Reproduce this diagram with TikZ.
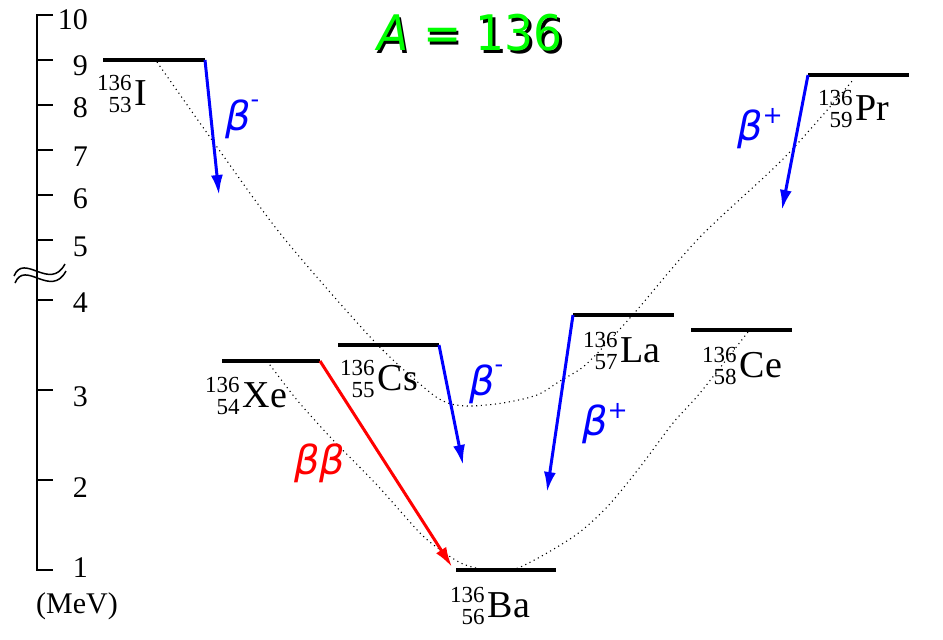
\documentclass[tikz,border=0pt]{standalone}
\usepackage{fontspec}
\setmainfont{Liberation Serif}
\newfontfamily\djv{DejaVu Sans}
\usetikzlibrary{arrows.meta}
\definecolor{tgreen}{RGB}{0,255,0}
\definecolor{tblue}{RGB}{0,0,255}
\definecolor{tred}{RGB}{255,0,0}
\newcommand\nucl[2]{{\fontsize{23}{22}\selectfont\raisebox{-7pt}{\begin{tabular}[b]{@{}r@{}}136\\#1\end{tabular}}}\kern3pt{\fontsize{38}{38}\selectfont #2}}
\newcommand\bet[2]{{\djv\fontsize{40}{40}\selectfont\itshape β}\raisebox{#2}{\djv\fontsize{24}{24}\selectfont #1}}
\newcommand\titletext{\scalebox{0.93}[1]{\djv\fontsize{49}{49}\selectfont{\itshape A} = 136}}
\begin{document}
\begin{tikzpicture}[x=1pt,y=-1pt,
  level/.style={line width=4pt},
  decay/.style={line width=3pt,-{Latex[length=20pt,width=12pt]}},
  parab/.style={line width=1.1pt,dash pattern=on 1.1pt off 3.6pt},
  axisline/.style={line width=2.5pt},
  ticklab/.style={anchor=east,inner sep=0pt,font=\fontsize{30}{30}\selectfont},
  nuc/.style={anchor=base west,inner sep=0pt},
  betalab/.style={anchor=base west,inner sep=0pt}]
\useasboundingbox (0,0) rectangle (943,640);
% axis
\draw[axisline] (53,15) -- (37,15) -- (37,570) -- (53,570);
\foreach \y in {60,105,150,195,240,300,390,480} \draw[axisline] (37,\y) -- (53,\y);
\node[ticklab] (t10) at (88,20) {10};
\node[ticklab] (t9) at (88,66) {9};
\node[ticklab] (t8) at (88,108) {8};
\node[ticklab] (t7) at (88,157) {7};
\node[ticklab] (t6) at (88,199) {6};
\node[ticklab] (t5) at (88,247) {5};
\node[ticklab] (t4) at (88,303) {4};
\node[ticklab] (t3) at (88,397) {3};
\node[ticklab] (t2) at (88,488) {2};
\node[ticklab] (t1) at (88,568) {1};
\node[anchor=west,inner sep=0pt,font=\fontsize{30}{30}\selectfont] (mev) at (36,606) {(MeV)};
% axis break
\draw[line width=1.5pt] (14,276) .. controls (24,252) and (50,292) .. (65,264);
\draw[line width=1.5pt] (15,283) .. controls (25,259) and (51,299) .. (66,271);
% title with shadow
\node[inner sep=0pt] (title) at (470,34) {\rlap{\kern2.5pt\raisebox{-2.5pt}{\color{black}\titletext}}{\color{tgreen}\titletext}};
% mass parabolas
\draw[parab] plot[smooth] coordinates {(157,62) (217,147) (283,237) (373,340) (427,390) (448,403) (470,406) (503,403) (537,395) (560,381) (583,367) (607,343) (637,310) (700,237) (785,157) (853,80)};
\draw[parab] plot[smooth] coordinates {(267,361) (297,400) (333,440) (377,485) (420,533) (442,551) (463,564) (488,570) (518,568) (573,537) (607,507) (640,467) (673,423) (700,393) (748,332)};
% levels
\coordinate (Il) at (103,60);  \coordinate (Ir) at (205,60);
\coordinate (Xel) at (222,361); \coordinate (Xer) at (320,361);
\coordinate (Csl) at (338,345); \coordinate (Csr) at (439,345);
\coordinate (Bal) at (456,570); \coordinate (Bar) at (556,570);
\coordinate (Lal) at (573,315); \coordinate (Lar) at (674,315);
\coordinate (Cel) at (691,330); \coordinate (Cer) at (792,330);
\coordinate (Prl) at (808,75);  \coordinate (Prr) at (909,75);
\foreach \n in {I,Xe,Cs,Ba,La,Ce,Pr} \draw[level] (\n l) -- (\n r);
% nuclide labels
\node[nuc] (labI) at (97,105) {\nucl{53}{I}};
\node[nuc] (labXe) at (205,407) {\nucl{54}{Xe}};
\node[nuc] (labCs) at (340,390) {\nucl{55}{Cs}};
\node[nuc] (labBa) at (450,617) {\nucl{56}{Ba}};
\node[nuc] (labLa) at (583,362) {\nucl{57}{La}};
\node[nuc] (labCe) at (702,377) {\nucl{58}{Ce}};
\node[nuc] (labPr) at (818,120) {\nucl{59}{Pr}};
% decays
\coordinate (Itip) at (219,195);
\coordinate (Cstip) at (463,465);
\coordinate (Latip) at (547,492);
\coordinate (Prtip) at (782,210);
\coordinate (Batip) at (452,567);
\draw[decay,tblue] (Ir) -- (Itip);
\draw[decay,tblue] (Csr) -- (Cstip);
\draw[decay,tblue] (Lal) -- (Latip);
\draw[decay,tblue] (Prl) -- (Prtip);
\draw[decay,tred] (Xer) -- (Batip);
\node[betalab,text=tblue] (bI) at (225,130) {\bet{-}{23pt}};
\node[betalab,text=tblue] (bCs) at (469,395) {\bet{-}{23pt}};
\node[betalab,text=tblue] (bLa) at (582,435) {\bet{+}{17pt}};
\node[betalab,text=tblue] (bPr) at (737,140) {\bet{+}{17pt}};
\node[betalab,text=tred] (bb) at (294,474) {\djv\fontsize{40}{40}\selectfont\itshape ββ};
\end{tikzpicture}
\end{document}
